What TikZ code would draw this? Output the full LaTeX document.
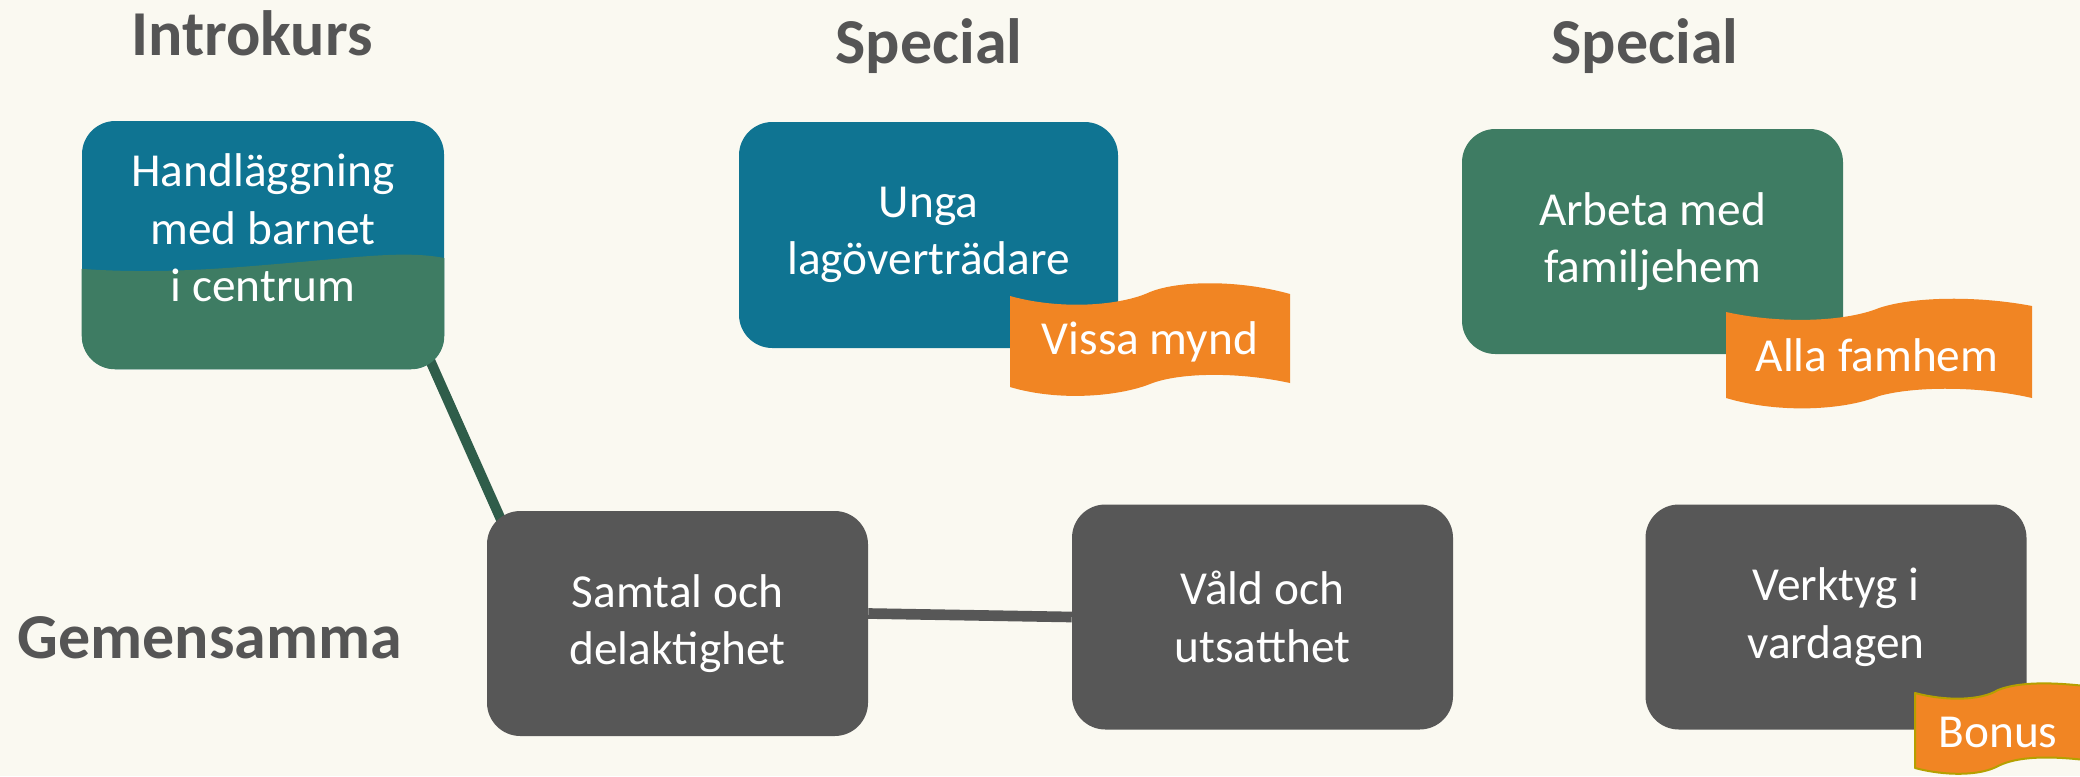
\documentclass[tikz,border=0pt]{standalone}
\usepackage{fontspec}
\setmainfont{Carlito}
\usetikzlibrary{backgrounds}
\definecolor{bgcream}{HTML}{FAF9F1}
\definecolor{kursblue}{HTML}{0F7492}
\definecolor{kursgreen}{HTML}{3E7C63}
\definecolor{kursgray}{HTML}{575757}
\definecolor{bandorange}{HTML}{F18523}
\definecolor{linegreen}{HTML}{2F5D4A}
\definecolor{headgray}{HTML}{555555}
\definecolor{bonusedge}{HTML}{B5A000}

\begin{document}
\begin{tikzpicture}[line cap=round,line join=round,x=0.75pt,y=-0.75pt,
  kurs/.style={rounded corners=25pt,inner sep=0pt,text=white,align=center,
    font=\fontsize{35.5}{43}\selectfont},
  kurstext/.style={text=white,align=center,inner sep=0pt,font=\fontsize{35.5}{43}\selectfont},
  rubrik/.style={text=headgray,inner sep=0pt,font=\fontsize{48}{52}\selectfont\bfseries}]
\useasboundingbox (0,0) rectangle (2080,776);

\node[rubrik] (introkurs) at (252,33) {Introkurs};
\node[rubrik] (special1) at (929,46) {Special};
\node[rubrik] (special2) at (1645,46) {Special};
\node[rubrik] (gemensamma) at (210,638) {Gemensamma};

\node[kurs,fill=kursblue,minimum width=271.5pt,minimum height=186pt] (hand) at (263,245) {};
\begin{scope}
\clip[rounded corners=25pt] (hand.north west) rectangle (hand.south east);
\fill[kursgreen] (60,267) .. controls (150,276) and (230,268) .. (300,262) .. controls (370,256) and (420,249) .. (460,262) -- (460,400) -- (60,400) -- cycle;
\end{scope}
\node[kurstext] (handtext) at (263,228) {Handläggning\\med barnet\\i centrum};

\node[kurs,fill=kursblue,minimum width=284.25pt,minimum height=169.5pt] (unga) at (928.5,235) {Unga\\lagöverträdare};
\node[kurs,fill=kursgreen,minimum width=285.75pt,minimum height=168.75pt] (arbeta) at (1652.5,241.5) {Arbeta med\\familjehem};

\node[kurs,fill=kursgray,minimum width=285.75pt,minimum height=168.75pt] (samtal) at (677.5,623.5) {Samtal och\\delaktighet};
\node[kurs,fill=kursgray,minimum width=285.75pt,minimum height=168.75pt] (vald) at (1262.5,617) {Våld och\\utsatthet};
\node[kurs,fill=kursgray,minimum width=285.75pt,minimum height=168.75pt] (verktyg) at (1836,617) {Verktyg i\\vardagen};

% banderoller
\fill[bandorange] (1010,296) .. controls (1060,310) and (1120,306) .. (1150,292) .. controls (1180,280) and (1240,280) .. (1290,294) -- (1290,383) .. controls (1240,372) and (1180,372) .. (1150,384) .. controls (1120,396) and (1060,402) .. (1010,387) -- cycle;
\node[kurstext] (vissa) at (1150,342) {Vissa mynd};

\fill[bandorange] (1726,312) .. controls (1780,324) and (1845,322) .. (1879,308) .. controls (1915,296) and (1980,296) .. (2032,306) -- (2032,398) .. controls (1980,386) and (1915,386) .. (1879,396) .. controls (1845,410) and (1780,414) .. (1726,398) -- cycle;
\node[kurstext] (famhem) at (1877,355) {Alla famhem};

\filldraw[fill=bandorange,draw=bonusedge,line width=1.5pt] (1915,693) .. controls (1945,701) and (1980,701) .. (1998,690) .. controls (2018,682) and (2050,682) .. (2085,686) -- (2085,760) .. controls (2050,756) and (2018,756) .. (1998,766) .. controls (1980,776) and (1945,776) .. (1915,768) -- cycle;
\node[kurstext] (bonus) at (1998,732) {Bonus};

\begin{scope}[on background layer]
\fill[bgcream] (0,0) rectangle (2080,776);
\draw[linegreen,line width=7.5pt,shorten <=-8pt,shorten >=-12pt] (hand.-36.4) -- (samtal.148);
\draw[kursgray,line width=8pt] (samtal.3) -- (vald.west);
\end{scope}
\end{tikzpicture}
\end{document}
